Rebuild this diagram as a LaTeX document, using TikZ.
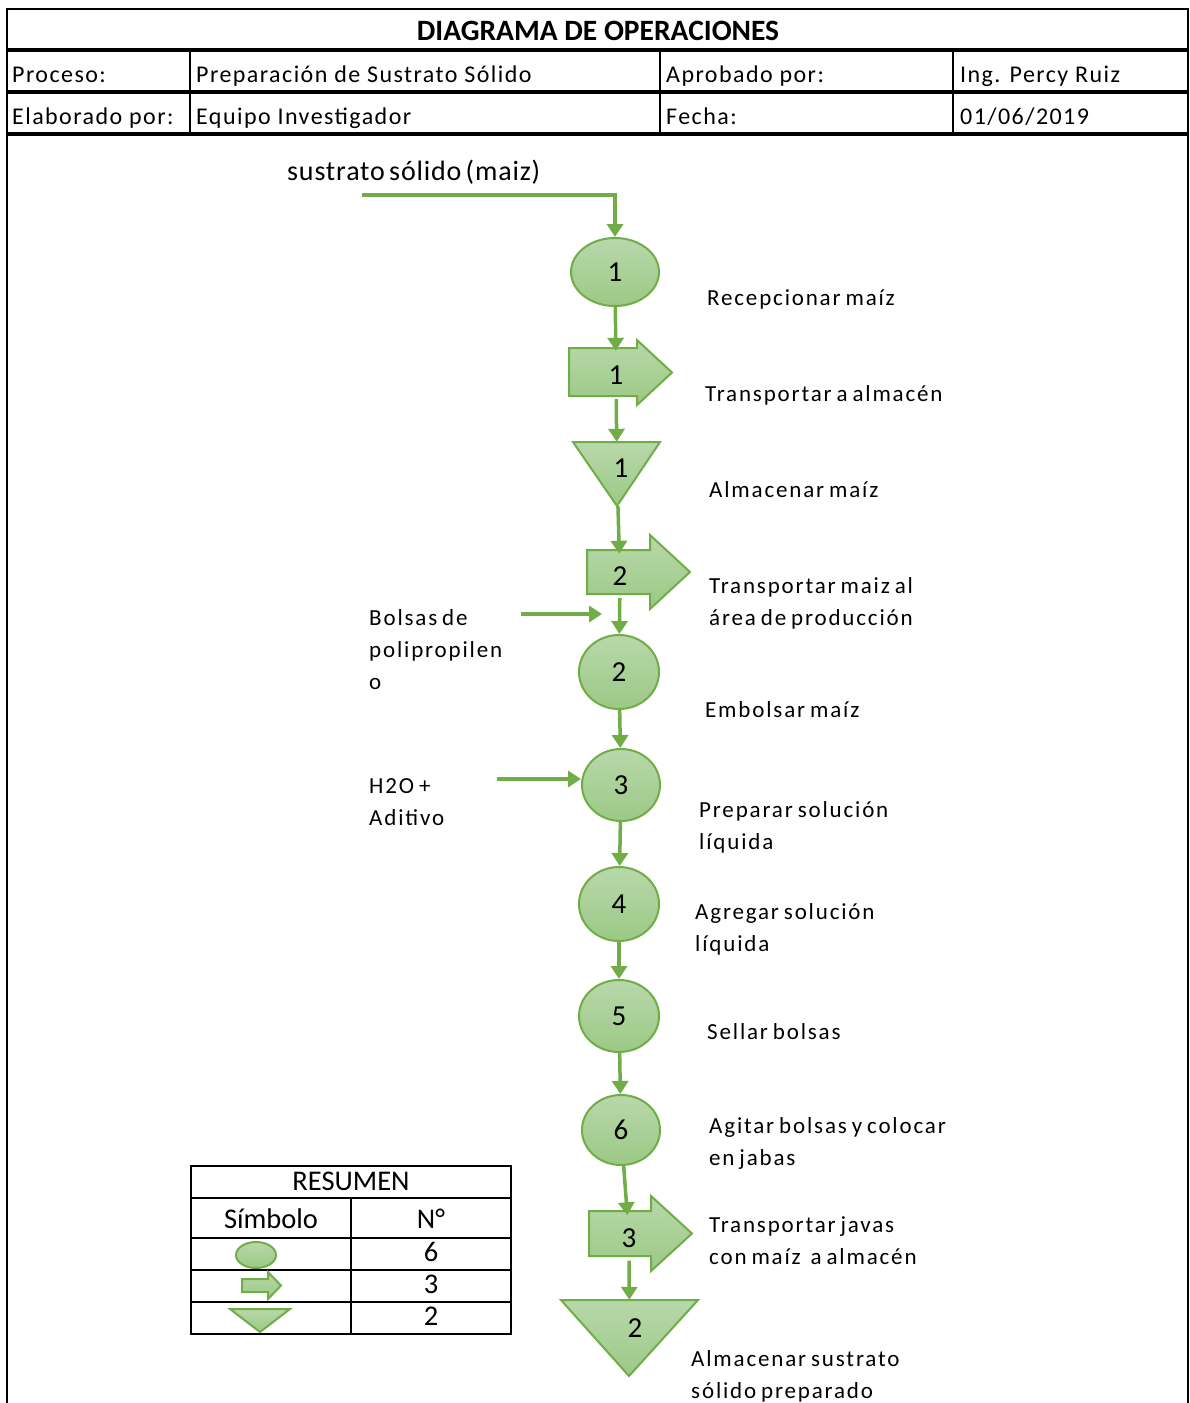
\documentclass[tikz,border=0pt]{standalone}
\usepackage{fontspec}
\setmainfont{Carlito}
\newfontfamily\lblfont[LetterSpace=8,WordSpace=0.7]{Carlito}
\newfontfamily\cellfont[LetterSpace=6]{Carlito}
\newfontfamily\inpfont[LetterSpace=3,WordSpace=0.6]{Carlito}
\usetikzlibrary{arrows.meta,shapes.geometric,calc}
\definecolor{gline}{HTML}{70AD47}
\definecolor{gtop}{HTML}{B8D8AA}
\definecolor{gbot}{HTML}{9CC986}
\begin{document}
\begin{tikzpicture}[x=1pt,y=-1pt,
  sym/.style={draw=gline,line width=2pt,top color=gtop,bottom color=gbot,line join=miter},
  opnode/.style={sym,ellipse,inner sep=0pt,font=\fontsize{29}{32}\selectfont},
  hold/.style={inner sep=0pt,minimum width=#1},
  num/.style={inner sep=0pt,font=\fontsize{29}{32}\selectfont},
  flow/.style={draw=gline,line width=3.5pt,-{Triangle[length=13pt,width=16pt]}},
  lbl/.style={anchor=base west,align=left,inner sep=0pt,font=\lblfont\fontsize{23}{32}\selectfont},
  cell/.style={anchor=base west,inner sep=0pt,font=\cellfont\fontsize{24}{26}\selectfont},
  frame/.style={draw=black,line width=2pt},
  thick frame/.style={draw=black,line width=3.5pt},
  tbl/.style={draw=black,line width=2pt},
  tbltxt/.style={inner sep=0pt,font=\fontsize{28.5}{30}\selectfont}]
\useasboundingbox (0,0) rectangle (1190,1403);

% ---------- header block ----------
\draw[frame] (7,1403) -- (7,9) -- (1188,9) -- (1188,1403);
\draw[thick frame] (7,50) -- (1188,50);
\draw[thick frame] (7,92) -- (1188,92);
\draw[thick frame] (7,134) -- (1188,134);
\foreach \cx in {190,660,953} \draw[frame] (\cx,50) -- (\cx,134);
\node[inner sep=0pt,anchor=base,font=\bfseries\fontsize{29.5}{32}\selectfont] (title) at (598,40) {DIAGRAMA DE OPERACIONES};
\node[cell] (h1) at (12,82) {Proceso:};
\node[cell] (h2) at (196,82) {Preparación de Sustrato Sólido};
\node[cell] (h3) at (666,82) {Aprobado por:};
\node[cell] (h4) at (960,82) {Ing. Percy Ruiz};
\node[cell] (h5) at (12,124) {Elaborado por:};
\node[cell] (h6) at (196,124) {Equipo Investigador};
\node[cell] (h7) at (666,124) {Fecha:};
\node[cell] (h8) at (960,124) {01/06/2019};

% ---------- process symbols ----------
% operations
\node[opnode,minimum width=88pt,minimum height=68pt] (o1) at (615,272) {1};
\node[opnode,minimum width=80pt,minimum height=74pt] (o2) at (619,672) {2};
\node[opnode,minimum width=78pt,minimum height=72pt] (o3) at (621,785) {3};
\node[opnode,minimum width=80pt,minimum height=74pt] (o4) at (619,904) {4};
\node[opnode,minimum width=80pt,minimum height=72pt] (o5) at (619,1016) {5};
\node[opnode,minimum width=78pt,minimum height=70pt] (o6) at (621,1130) {6};

% transports (block arrows)
\draw[sym] (569,348) -- (637,348) -- (637,340) -- (672,372.5) -- (637,405) -- (637,396) -- (569,396) -- cycle;
\node[num,minimum height=48pt,minimum width=20pt] (t1) at (616,375) {1};
\draw[sym] (587,550) -- (650,550) -- (650,535) -- (690,572) -- (650,609) -- (650,594) -- (587,594) -- cycle;
\node[num,minimum height=44pt,minimum width=20pt] (t2) at (620,576) {2};
\draw[sym] (589,1211) -- (651,1211) -- (651,1196) -- (692,1233.5) -- (651,1271) -- (651,1256) -- (589,1256) -- cycle;
\node[num,minimum height=45pt,minimum width=20pt] (t3) at (629,1238) {3};

% storages (triangles)
\draw[sym] (573,442) -- (660,442) -- (617,506) -- cycle;
\node[hold=87pt,minimum height=64pt] (s1) at (617,474) {};
\node[num] (s1n) at (621,468) {1};
\draw[sym] (561,1300) -- (698,1300) -- (629,1376) -- cycle;
\node[hold=137pt,minimum height=76pt] (s2) at (629.5,1338) {};
\node[num] (s2n) at (635,1328) {2};

% ---------- flow ----------
\coordinate (in0) at (362,195);
\node[inner sep=0pt,anchor=base west,font=\inpfont\fontsize{28}{30}\selectfont] (inlbl) at (287,180) {sustrato sólido (maiz)};
\draw[flow] (in0) -| (o1);
\draw[flow] (o1) -- (t1);
\draw[flow] (t1) -- (s1);
\draw[flow] (s1) -- (t2);
\draw[flow] (t2) -- (o2);
\draw[flow] (o2) -- (o3);
\draw[flow] (o3) -- (o4);
\draw[flow] (o4) -- (o5);
\draw[flow] (o5) -- (o6);
\draw[flow] (o6) -- (t3);
\draw[flow] (t3) -- (s2);

% side inputs
\coordinate (bolA) at (521,614);
\coordinate (bolB) at (602,614);
\draw[flow] (bolA) -- (bolB);
\coordinate (aguA) at (497,779);
\draw[flow] (aguA) -- (aguA -| o3.west);
\node[lbl] (bol) at (369,689) {Bolsas de\\polipropilen\\o};
\node[lbl] (agu) at (369,825) {H2O +\\Aditivo};

% ---------- descriptions (anchored at the baseline of the last line) ----------
\node[lbl] (d1) at (707,305) {Recepcionar maíz};
\node[lbl] (d2) at (705,401) {Transportar a almacén};
\node[lbl] (d3) at (709,497) {Almacenar maíz};
\node[lbl] (d4) at (709,625) {Transportar maiz al\\área de producción};
\node[lbl] (d5) at (705,717) {Embolsar maíz};
\node[lbl] (d6) at (699,849) {Preparar solución\\líquida};
\node[lbl] (d7) at (695,951) {Agregar solución\\líquida};
\node[lbl] (d8) at (707,1039) {Sellar bolsas};
\node[lbl] (d9) at (709,1165) {Agitar bolsas y colocar\\en jabas};
\node[lbl] (d10) at (709,1264) {Transportar javas\\con maíz\ \ a almacén};
\node[lbl] (d11) at (691,1398) {Almacenar sustrato\\sólido preparado};

% ---------- summary table ----------
\draw[tbl] (191,1166) rectangle (511,1334);
\foreach \ry in {1198,1238,1270,1302} \draw[tbl] (191,\ry) -- (511,\ry);
\draw[tbl] (351,1198) -- (351,1334);
\node[tbltxt] (rs) at (351,1181) {RESUMEN};
\node[tbltxt] (rsa) at (271,1219) {Símbolo};
\node[tbltxt] (rsb) at (431,1219) {N°};
\node[tbltxt] (rn1) at (431,1252) {6};
\node[tbltxt] (rn2) at (431,1284) {3};
\node[tbltxt] (rn3) at (431,1316) {2};
\node[sym,ellipse,inner sep=0pt,minimum width=40pt,minimum height=26pt] (ko) at (256,1255) {};
\draw[sym] (242,1279) -- (268,1279) -- (268,1272) -- (281,1285.5) -- (268,1299) -- (268,1292) -- (242,1292) -- cycle;
\draw[sym] (230,1309) -- (290,1309) -- (260,1332) -- cycle;
\end{tikzpicture}
\end{document}
